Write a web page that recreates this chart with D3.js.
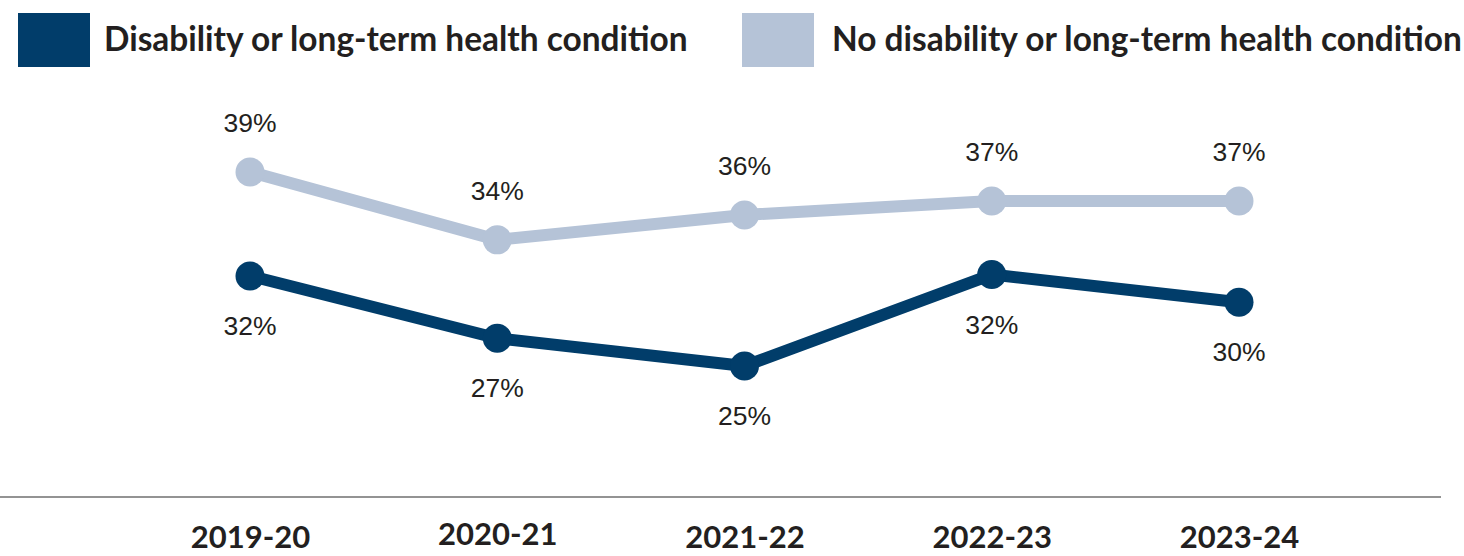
<!DOCTYPE html>
<html>
<head>
<meta charset="utf-8">
<script src="https://cdn.jsdelivr.net/npm/d3@7"></script>
<style>
  html, body { margin: 0; padding: 0; background: #fff; }
  svg { display: block; }
</style>
</head>
<body>
<svg id="chart" width="1464" height="556"></svg>
<script>
const categories = ["2019-20", "2020-21", "2021-22", "2022-23", "2023-24"];
const disabilityValues = [31.5, 27.0, 25.0, 31.6, 29.6];
const noDisabilityValues = [39.0, 34.1, 35.9, 36.9, 36.9];
const seriesNames = ["Disability or long-term health condition", "No disability or long-term health condition"];
const seriesColors = ["#013d6a", "#b5c3d7"];

const svg = d3.select("#chart");

const x = d3.scalePoint().domain(categories).range([250, 1239]);
const y = d3.scaleLinear().domain([20, 40]).range([435.3, 158.1]);

const series = [
  { name: seriesNames[0], values: disabilityValues, color: seriesColors[0], labelDy: 59 },
  { name: seriesNames[1], values: noDisabilityValues, color: seriesColors[1], labelDy: -40 }
];

// Legend
const legendItems = [
  { sx: 18, tx: 104, tw: 584 },
  { sx: 742, tx: 832, tw: 630 }
];
series.forEach((s, i) => {
  const L = legendItems[i];
  svg.append("rect").attr("x", L.sx).attr("y", 13).attr("width", 72).attr("height", 54).attr("fill", s.color);
  const t = svg.append("text")
    .attr("x", L.tx).attr("y", 51)
    .attr("font-family", "Lato, 'Open Sans', sans-serif")
    .attr("font-weight", 700)
    .attr("font-size", 28)
    .attr("fill", "#231f20")
    .text(s.name);
  const w = t.node().getComputedTextLength();
  t.attr("font-size", 28 * L.tw / w);
});

// Lines
const line = d3.line().x((d, i) => x(categories[i])).y(d => y(d));
series.forEach(s => {
  svg.append("path")
    .datum(s.values)
    .attr("d", line)
    .attr("fill", "none")
    .attr("stroke", s.color)
    .attr("stroke-width", 12)
    .attr("stroke-linejoin", "round");
  svg.selectAll(null).data(s.values).enter().append("circle")
    .attr("cx", (d, i) => x(categories[i]))
    .attr("cy", d => y(d))
    .attr("r", 14.5)
    .attr("fill", s.color);
  svg.selectAll(null).data(s.values).enter().append("text")
    .attr("x", (d, i) => x(categories[i]))
    .attr("y", d => y(d) + s.labelDy)
    .attr("text-anchor", "middle")
    .attr("font-family", "'Liberation Sans', Arial, sans-serif")
    .attr("font-size", 26.5)
    .attr("fill", "#231f20")
    .text(d => d3.format(".0f")(d) + "%");
});

// X axis line
svg.append("line").attr("x1", 0).attr("x2", 1441).attr("y1", 497).attr("y2", 497)
  .attr("stroke", "#6f6f6f").attr("stroke-width", 1.5);

// X labels
const xAxis = d3.axisBottom(x).tickSize(0).tickPadding(0);
const gx = svg.append("g").attr("transform", "translate(0,530)").call(xAxis);
gx.select(".domain").remove();
gx.selectAll("text")
  .attr("dy", null)
  .attr("y", (d, i) => i === 1 ? 15 : 18)
  .attr("font-family", "Lato, 'Open Sans', sans-serif")
  .attr("font-weight", 700)
  .attr("font-size", 31)
  .attr("fill", "#231f20");
</script>
</body>
</html>
